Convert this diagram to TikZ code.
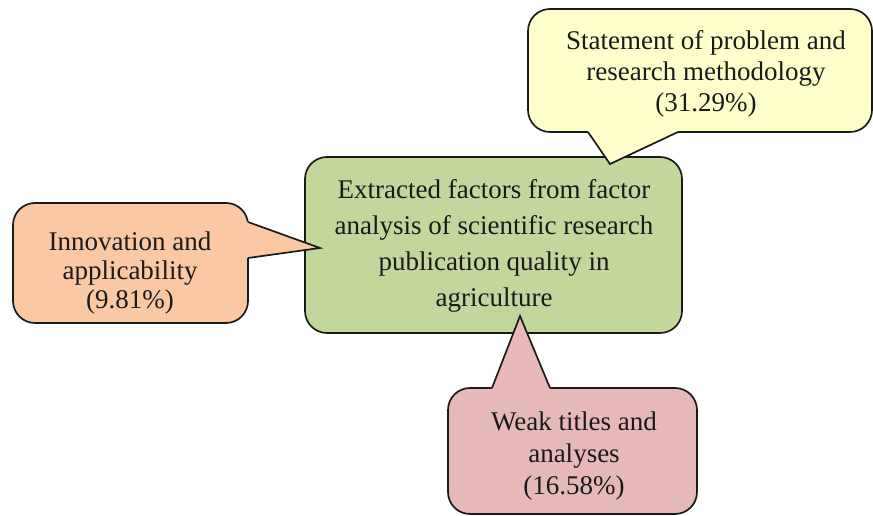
\documentclass[tikz,border=0pt]{standalone}
\usepackage{fontspec}
\setmainfont{Liberation Serif}
\definecolor{lineC}{HTML}{1A1A1A}
\definecolor{txtC}{HTML}{1A1A1A}
\definecolor{greenC}{HTML}{C3D69B}
\definecolor{yellowC}{HTML}{FFFFCC}
\definecolor{orangeC}{HTML}{FAC8A2}
\definecolor{pinkC}{HTML}{E6B9B8}
\begin{document}
\begin{tikzpicture}[x=1pt,y=1pt,
  box/.style={draw=lineC, line width=1.7pt, rounded corners=22pt, inner sep=0pt},
  lbl/.style={align=center, text=txtC, inner sep=0pt},
  ptr/.style={draw=lineC, line width=1.7pt, line join=miter}]
\useasboundingbox (0,0) rectangle (873,516);
% central box
\node[box, fill=greenC, minimum width=377pt, minimum height=176pt] (gbox) at (493.5,271) {};
\node[lbl, font=\fontsize{27}{36}\selectfont] (gtext) at (494,270)
  {Extracted factors from factor\\analysis of scientific research\\publication quality in\\agriculture};
% yellow callout
\node[box, fill=yellowC, minimum width=344pt, minimum height=123pt] (ybox) at (700,445.5) {};
\coordinate (yb1) at (588,384);
\coordinate (ytip) at (610,352);
\coordinate (yb2) at (678,384);
\fill[yellowC] (yb1) -- (ytip) -- (yb2) -- ([yshift=2.5pt]yb2) -- ([yshift=2.5pt]yb1) -- cycle;
\draw[ptr] (yb1) -- (ytip) -- (yb2);
\node[lbl, font=\fontsize{27}{31}\selectfont] (ytext) at (706,442)
  {Statement of problem and\\research methodology\\(31.29\%)};
% orange callout
\node[box, fill=orangeC, minimum width=235pt, minimum height=120pt] (obox) at (130.5,253) {};
\coordinate (ob1) at (248,294);
\coordinate (otip) at (320,268);
\coordinate (ob2) at (248,258);
\fill[orangeC] (ob1) -- (otip) -- (ob2) -- ([xshift=-2.5pt]ob2) -- ([xshift=-2.5pt]ob1) -- cycle;
\draw[ptr] (ob1) -- (otip) -- (ob2);
\node[lbl, font=\fontsize{27}{29}\selectfont] (otext) at (130,243)
  {Innovation and\\applicability\\(9.81\%)};
% pink callout
\node[box, fill=pinkC, minimum width=249pt, minimum height=126pt] (pbox) at (572.5,65) {};
\coordinate (pb1) at (492,128);
\coordinate (ptip) at (520,200);
\coordinate (pb2) at (550,128);
\fill[pinkC] (pb1) -- (ptip) -- (pb2) -- ([yshift=-2.5pt]pb2) -- ([yshift=-2.5pt]pb1) -- cycle;
\draw[ptr] (pb1) -- (ptip) -- (pb2);
\node[lbl, font=\fontsize{27}{32}\selectfont] (ptext) at (574,60)
  {Weak titles and\\analyses\\(16.58\%)};
\end{tikzpicture}
\end{document}
